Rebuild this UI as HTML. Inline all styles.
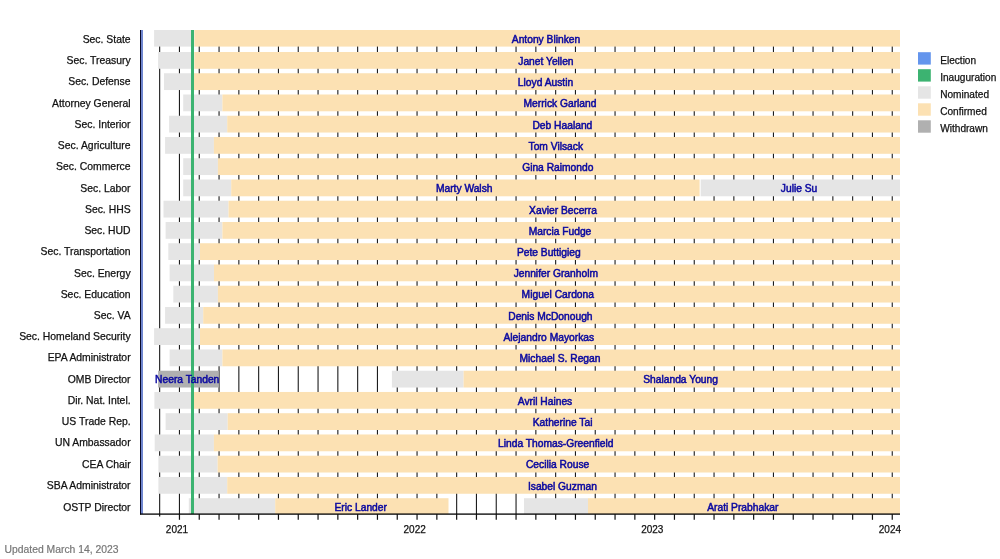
<!DOCTYPE html>
<html lang="en"><head><meta charset="utf-8"><title>Biden Cabinet confirmation timeline</title>
<style>html,body{margin:0;padding:0;background:#fff}body{width:1000px;height:559px;overflow:hidden}svg{display:block;will-change:transform}text{font-family:"Liberation Sans",Arial,Helvetica,sans-serif;font-size:10.35px}.lab{fill:#111;stroke:#111;stroke-width:.25px;text-anchor:end;font-size:10.4px}.nm{fill:#0a08a0;stroke:#0a08a0;stroke-width:.5px;text-anchor:middle;font-size:10.25px}.yr{fill:#111;stroke:#111;stroke-width:.25px;text-anchor:middle;font-size:10.3px}.lg{fill:#111;stroke:#111;stroke-width:.25px;font-size:10.1px}.up{fill:#777;stroke:#777;stroke-width:.2px}</style></head><body>
<svg width="1000" height="559" viewBox="0 0 1000 559">
<rect width="1000" height="559" fill="#fff"/>
<g stroke="#1c1c1c" stroke-width="1.1"><line x1="159.65" y1="30" x2="159.65" y2="514" /><line x1="179.45" y1="30" x2="179.45" y2="514" /><line x1="199.25" y1="30" x2="199.25" y2="514" /><line x1="219.05" y1="30" x2="219.05" y2="514" /><line x1="238.85" y1="30" x2="238.85" y2="514" /><line x1="258.65" y1="30" x2="258.65" y2="514" /><line x1="278.45" y1="30" x2="278.45" y2="514" /><line x1="298.25" y1="30" x2="298.25" y2="514" /><line x1="318.05" y1="30" x2="318.05" y2="514" /><line x1="337.85" y1="30" x2="337.85" y2="514" /><line x1="357.65" y1="30" x2="357.65" y2="514" /><line x1="377.45" y1="30" x2="377.45" y2="514" /><line x1="397.25" y1="30" x2="397.25" y2="514" /><line x1="417.05" y1="30" x2="417.05" y2="514" /><line x1="436.85" y1="30" x2="436.85" y2="514" /><line x1="456.65" y1="30" x2="456.65" y2="514" /><line x1="476.45" y1="30" x2="476.45" y2="514" /><line x1="496.25" y1="30" x2="496.25" y2="514" /><line x1="516.05" y1="30" x2="516.05" y2="514" /><line x1="535.85" y1="30" x2="535.85" y2="514" /><line x1="555.65" y1="30" x2="555.65" y2="514" /><line x1="575.45" y1="30" x2="575.45" y2="514" /><line x1="595.25" y1="30" x2="595.25" y2="514" /><line x1="615.05" y1="30" x2="615.05" y2="514" /><line x1="634.85" y1="30" x2="634.85" y2="514" /><line x1="654.65" y1="30" x2="654.65" y2="514" /><line x1="674.45" y1="30" x2="674.45" y2="514" /><line x1="694.25" y1="30" x2="694.25" y2="514" /><line x1="714.05" y1="30" x2="714.05" y2="514" /><line x1="733.85" y1="30" x2="733.85" y2="514" /><line x1="753.65" y1="30" x2="753.65" y2="514" /><line x1="773.45" y1="30" x2="773.45" y2="514" /><line x1="793.25" y1="30" x2="793.25" y2="514" /><line x1="813.05" y1="30" x2="813.05" y2="514" /><line x1="832.85" y1="30" x2="832.85" y2="514" /><line x1="852.65" y1="30" x2="852.65" y2="514" /><line x1="872.45" y1="30" x2="872.45" y2="514" /><line x1="892.25" y1="30" x2="892.25" y2="514" /></g>
<rect x="154.10" y="30.00" width="40.30" height="16.60" fill="#e5e5e5"/>
<rect x="194.40" y="30.00" width="705.60" height="16.60" fill="#fce1b3"/>
<rect x="158.10" y="52.00" width="36.20" height="16.80" fill="#e5e5e5"/>
<rect x="194.30" y="52.00" width="705.70" height="16.80" fill="#fce1b3"/>
<rect x="164.00" y="73.25" width="29.50" height="16.80" fill="#e5e5e5"/>
<rect x="193.50" y="73.25" width="706.50" height="16.80" fill="#fce1b3"/>
<rect x="183.20" y="94.49" width="39.20" height="16.80" fill="#e5e5e5"/>
<rect x="222.40" y="94.49" width="677.60" height="16.80" fill="#fce1b3"/>
<rect x="169.10" y="115.74" width="58.10" height="16.80" fill="#e5e5e5"/>
<rect x="227.20" y="115.74" width="672.80" height="16.80" fill="#fce1b3"/>
<rect x="165.10" y="136.99" width="48.80" height="16.80" fill="#e5e5e5"/>
<rect x="213.90" y="136.99" width="686.10" height="16.80" fill="#fce1b3"/>
<rect x="183.20" y="158.24" width="34.70" height="16.80" fill="#e5e5e5"/>
<rect x="217.90" y="158.24" width="682.10" height="16.80" fill="#fce1b3"/>
<rect x="183.20" y="179.49" width="48.00" height="16.80" fill="#e5e5e5"/>
<rect x="231.20" y="179.49" width="468.40" height="16.80" fill="#fce1b3"/>
<rect x="700.70" y="179.49" width="199.30" height="16.80" fill="#e5e5e5"/>
<rect x="163.50" y="200.73" width="65.00" height="16.80" fill="#e5e5e5"/>
<rect x="228.50" y="200.73" width="671.50" height="16.80" fill="#fce1b3"/>
<rect x="165.60" y="221.98" width="56.80" height="16.80" fill="#e5e5e5"/>
<rect x="222.40" y="221.98" width="677.60" height="16.80" fill="#fce1b3"/>
<rect x="168.30" y="243.23" width="31.70" height="16.80" fill="#e5e5e5"/>
<rect x="200.00" y="243.23" width="700.00" height="16.80" fill="#fce1b3"/>
<rect x="169.60" y="264.48" width="44.40" height="16.80" fill="#e5e5e5"/>
<rect x="214.00" y="264.48" width="686.00" height="16.80" fill="#fce1b3"/>
<rect x="173.30" y="285.73" width="44.60" height="16.80" fill="#e5e5e5"/>
<rect x="217.90" y="285.73" width="682.10" height="16.80" fill="#fce1b3"/>
<rect x="165.10" y="306.97" width="38.10" height="16.80" fill="#e5e5e5"/>
<rect x="203.20" y="306.97" width="696.80" height="16.80" fill="#fce1b3"/>
<rect x="154.10" y="328.22" width="45.90" height="16.80" fill="#e5e5e5"/>
<rect x="200.00" y="328.22" width="700.00" height="16.80" fill="#fce1b3"/>
<rect x="169.60" y="349.47" width="52.80" height="16.80" fill="#e5e5e5"/>
<rect x="222.40" y="349.47" width="677.60" height="16.80" fill="#fce1b3"/>
<rect x="158.10" y="370.72" width="60.60" height="16.80" fill="#b0b0b0"/>
<rect x="391.90" y="370.72" width="71.70" height="16.80" fill="#e5e5e5"/>
<rect x="463.60" y="370.72" width="436.40" height="16.80" fill="#fce1b3"/>
<rect x="154.40" y="391.97" width="38.10" height="16.80" fill="#e5e5e5"/>
<rect x="192.50" y="391.97" width="707.50" height="16.80" fill="#fce1b3"/>
<rect x="165.60" y="413.21" width="62.10" height="16.80" fill="#e5e5e5"/>
<rect x="227.70" y="413.21" width="672.30" height="16.80" fill="#fce1b3"/>
<rect x="154.70" y="434.46" width="59.20" height="16.80" fill="#e5e5e5"/>
<rect x="213.90" y="434.46" width="686.10" height="16.80" fill="#fce1b3"/>
<rect x="158.40" y="455.71" width="59.20" height="16.80" fill="#e5e5e5"/>
<rect x="217.60" y="455.71" width="682.40" height="16.80" fill="#fce1b3"/>
<rect x="158.40" y="476.96" width="68.80" height="16.80" fill="#e5e5e5"/>
<rect x="227.20" y="476.96" width="672.80" height="16.80" fill="#fce1b3"/>
<rect x="188.80" y="498.21" width="86.40" height="15.79" fill="#e5e5e5"/>
<rect x="275.20" y="498.21" width="173.30" height="15.79" fill="#fce1b3"/>
<rect x="524.00" y="498.21" width="64.00" height="15.79" fill="#e5e5e5"/>
<rect x="588.00" y="498.21" width="312.00" height="15.79" fill="#fce1b3"/>
<rect x="140" y="30" width="1" height="484.5" fill="#0a0a2a"/>
<rect x="141" y="30" width="2" height="484" fill="#6f86cf"/>
<rect x="191" y="30" width="3" height="484" fill="#3cb371"/>
<rect x="140" y="513.45" width="760" height="1.3" fill="#000"/>
<g stroke="#111" stroke-width="1.2"><line x1="159.65" y1="514" x2="159.65" y2="516.6"/><line x1="179.45" y1="514" x2="179.45" y2="519.8"/><line x1="199.25" y1="514" x2="199.25" y2="519.8"/><line x1="219.05" y1="514" x2="219.05" y2="519.8"/><line x1="238.85" y1="514" x2="238.85" y2="519.8"/><line x1="258.65" y1="514" x2="258.65" y2="519.8"/><line x1="278.45" y1="514" x2="278.45" y2="519.8"/><line x1="298.25" y1="514" x2="298.25" y2="519.8"/><line x1="318.05" y1="514" x2="318.05" y2="519.8"/><line x1="337.85" y1="514" x2="337.85" y2="519.8"/><line x1="357.65" y1="514" x2="357.65" y2="519.8"/><line x1="377.45" y1="514" x2="377.45" y2="519.8"/><line x1="397.25" y1="514" x2="397.25" y2="519.8"/><line x1="417.05" y1="514" x2="417.05" y2="519.8"/><line x1="436.85" y1="514" x2="436.85" y2="519.8"/><line x1="456.65" y1="514" x2="456.65" y2="519.8"/><line x1="476.45" y1="514" x2="476.45" y2="519.8"/><line x1="496.25" y1="514" x2="496.25" y2="519.8"/><line x1="516.05" y1="514" x2="516.05" y2="519.8"/><line x1="535.85" y1="514" x2="535.85" y2="519.8"/><line x1="555.65" y1="514" x2="555.65" y2="519.8"/><line x1="575.45" y1="514" x2="575.45" y2="519.8"/><line x1="595.25" y1="514" x2="595.25" y2="519.8"/><line x1="615.05" y1="514" x2="615.05" y2="519.8"/><line x1="634.85" y1="514" x2="634.85" y2="519.8"/><line x1="654.65" y1="514" x2="654.65" y2="519.8"/><line x1="674.45" y1="514" x2="674.45" y2="519.8"/><line x1="694.25" y1="514" x2="694.25" y2="519.8"/><line x1="714.05" y1="514" x2="714.05" y2="519.8"/><line x1="733.85" y1="514" x2="733.85" y2="519.8"/><line x1="753.65" y1="514" x2="753.65" y2="519.8"/><line x1="773.45" y1="514" x2="773.45" y2="519.8"/><line x1="793.25" y1="514" x2="793.25" y2="519.8"/><line x1="813.05" y1="514" x2="813.05" y2="519.8"/><line x1="832.85" y1="514" x2="832.85" y2="519.8"/><line x1="852.65" y1="514" x2="852.65" y2="519.8"/><line x1="872.45" y1="514" x2="872.45" y2="519.8"/><line x1="892.25" y1="514" x2="892.25" y2="519.8"/></g>
<text class="yr" x="177.0" y="533" textLength="22.3" lengthAdjust="spacingAndGlyphs">2021</text>
<text class="yr" x="414.7" y="533" textLength="22.3" lengthAdjust="spacingAndGlyphs">2022</text>
<text class="yr" x="652.3" y="533" textLength="22.3" lengthAdjust="spacingAndGlyphs">2023</text>
<text class="yr" x="889.9" y="533" textLength="22.3" lengthAdjust="spacingAndGlyphs">2024</text>
<text class="lab" x="130.6" y="43">Sec. State</text>
<text class="nm" x="546.0" y="43">Antony Blinken</text>
<text class="lab" x="130.6" y="64">Sec. Treasury</text>
<text class="nm" x="545.9" y="65">Janet Yellen</text>
<text class="lab" x="130.6" y="85">Sec. Defense</text>
<text class="nm" x="545.5" y="86">Lloyd Austin</text>
<text class="lab" x="130.6" y="107">Attorney General</text>
<text class="nm" x="560.0" y="107">Merrick Garland</text>
<text class="lab" x="130.6" y="128">Sec. Interior</text>
<text class="nm" x="562.4" y="129">Deb Haaland</text>
<text class="lab" x="130.6" y="149">Sec. Agriculture</text>
<text class="nm" x="555.8" y="150">Tom Vilsack</text>
<text class="lab" x="130.6" y="170">Sec. Commerce</text>
<text class="nm" x="557.8" y="171">Gina Raimondo</text>
<text class="lab" x="130.6" y="192">Sec. Labor</text>
<text class="nm" x="464.2" y="192">Marty Walsh</text>
<text class="nm" x="799.1" y="192">Julie Su</text>
<text class="lab" x="130.6" y="213">Sec. HHS</text>
<text class="nm" x="563.0" y="214">Xavier Becerra</text>
<text class="lab" x="130.6" y="234">Sec. HUD</text>
<text class="nm" x="560.0" y="235">Marcia Fudge</text>
<text class="lab" x="130.6" y="255">Sec. Transportation</text>
<text class="nm" x="548.8" y="256">Pete Buttigieg</text>
<text class="lab" x="130.6" y="277">Sec. Energy</text>
<text class="nm" x="555.8" y="277">Jennifer Granholm</text>
<text class="lab" x="130.6" y="298">Sec. Education</text>
<text class="nm" x="557.8" y="298">Miguel Cardona</text>
<text class="lab" x="130.6" y="319">Sec. VA</text>
<text class="nm" x="550.4" y="320">Denis McDonough</text>
<text class="lab" x="130.6" y="340">Sec. Homeland Security</text>
<text class="nm" x="548.8" y="341">Alejandro Mayorkas</text>
<text class="lab" x="130.6" y="361">EPA Administrator</text>
<text class="nm" x="560.0" y="362">Michael S. Regan</text>
<text class="lab" x="130.6" y="383">OMB Director</text>
<text class="nm" x="187.2" y="383">Neera Tanden</text>
<text class="nm" x="680.6" y="383">Shalanda Young</text>
<text class="lab" x="130.6" y="404">Dir. Nat. Intel.</text>
<text class="nm" x="545.0" y="405">Avril Haines</text>
<text class="lab" x="130.6" y="425">US Trade Rep.</text>
<text class="nm" x="562.6" y="426">Katherine Tai</text>
<text class="lab" x="130.6" y="446">UN Ambassador</text>
<text class="nm" x="555.8" y="447">Linda Thomas-Greenfield</text>
<text class="lab" x="130.6" y="468">CEA Chair</text>
<text class="nm" x="557.6" y="468">Cecilia Rouse</text>
<text class="lab" x="130.6" y="489">SBA Administrator</text>
<text class="nm" x="562.4" y="490">Isabel Guzman</text>
<text class="lab" x="130.6" y="511">OSTP Director</text>
<text class="nm" x="360.7" y="511">Eric Lander</text>
<text class="nm" x="742.8" y="511">Arati Prabhakar</text>
<rect x="918" y="52.2" width="12.8" height="12.4" fill="#6495ed"/>
<text class="lg" x="940.2" y="63.8">Election</text>
<rect x="918" y="69.2" width="12.8" height="12.4" fill="#3cb371"/>
<text class="lg" x="940.2" y="80.8">Inauguration</text>
<rect x="918" y="86.3" width="12.8" height="12.4" fill="#e5e5e5"/>
<text class="lg" x="940.2" y="97.9">Nominated</text>
<rect x="918" y="103.3" width="12.8" height="12.4" fill="#fce1b3"/>
<text class="lg" x="940.2" y="114.9">Confirmed</text>
<rect x="918" y="120.3" width="12.8" height="12.4" fill="#b0b0b0"/>
<text class="lg" x="940.2" y="131.9">Withdrawn</text>
<text class="up" x="4.6" y="553">Updated March 14, 2023</text>
</svg></body></html>
